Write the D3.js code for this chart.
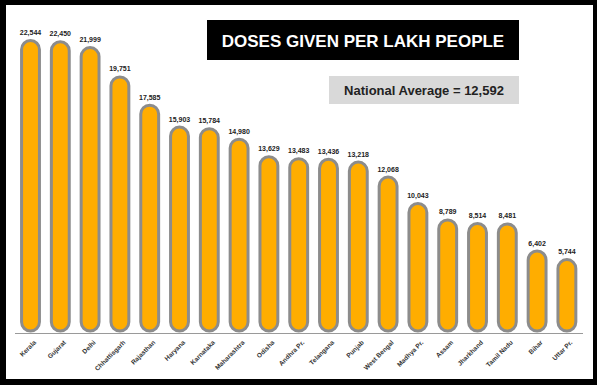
<!DOCTYPE html>
<html>
<head>
<meta charset="utf-8">
<script src="https://cdn.jsdelivr.net/npm/d3@7"></script>
<style>
  html, body { margin: 0; padding: 0; background: #fff; }
  svg { display: block; font-family: "Liberation Sans", Arial, Helvetica, sans-serif; }
</style>
</head>
<body>
<div id="chart"></div>
<script>
// Data
const states = ["Kerala", "Gujarat", "Delhi", "Chhattisgarh", "Rajasthan", "Haryana", "Karnataka",
    "Maharashtra", "Odisha", "Andhra Pr.", "Telangana", "Punjab", "West Bengal", "Madhya Pr.",
    "Assam", "Jharkhand", "Tamil Nadu", "Bihar", "Uttar Pr."];
const doses = [22544, 22450, 21999, 19751, 17585, 15903, 15784, 14980, 13629, 13483, 13436,
    13218, 12068, 10043, 8789, 8514, 8481, 6402, 5744];
const titleText = "DOSES GIVEN PER LAKH PEOPLE";
const nationalAverage = 12592;

const width = 600, height = 387;
const fmt = d3.format(",");

const svg = d3.select("#chart")
    .append("svg")
    .attr("width", width)
    .attr("height", height);

// black frame around a white panel
svg.append("rect").attr("x", 0).attr("y", 0).attr("width", 597).attr("height", 385).attr("fill", "#000");
svg.append("rect").attr("x", 6).attr("y", 5).attr("width", 587).attr("height", 374).attr("fill", "#fff");

const data = states.map((s, i) => ({ state: s, value: doses[i] }));

const x = d3.scaleBand()
    .domain(states)
    .range([15.6, 581.8])
    .paddingInner(0.4)
    .paddingOuter(0.2);

const y = d3.scaleLinear()
    .domain([0, d3.max(doses)])
    .range([333, 39]);

const baseY = 331;
const sw = 3;

// bars as pills
svg.selectAll(".bar")
    .data(data)
    .enter()
    .append("rect")
    .attr("class", "bar")
    .attr("x", d => x(d.state))
    .attr("y", d => y(d.value) + sw / 2)
    .attr("width", x.bandwidth())
    .attr("height", d => baseY - (y(d.value) + sw / 2))
    .attr("rx", x.bandwidth() / 2)
    .attr("ry", x.bandwidth() / 2)
    .attr("fill", "#FFAD00")
    .attr("stroke", "#8c8c8c")
    .attr("stroke-width", sw);

// baseline
svg.append("line")
    .attr("x1", 15).attr("x2", 583)
    .attr("y1", 333.5).attr("y2", 333.5)
    .attr("stroke", "#9a9a9a")
    .attr("stroke-width", 1);

// value labels
svg.selectAll(".val")
    .data(data)
    .enter()
    .append("text")
    .attr("class", "val")
    .attr("x", d => x(d.state) + x.bandwidth() / 2)
    .attr("y", d => y(d.value) - 4)
    .attr("text-anchor", "middle")
    .attr("font-size", 7)
    .attr("font-weight", "bold")
    .attr("fill", "#222")
    .text(d => fmt(d.value));

// category labels, rotated
svg.selectAll(".cat")
    .data(data)
    .enter()
    .append("text")
    .attr("class", "cat")
    .attr("text-anchor", "end")
    .attr("font-size", 6.5)
    .attr("font-weight", "bold")
    .attr("fill", "#333")
    .attr("transform", d => `translate(${x(d.state) + x.bandwidth() / 2 + 6},${343}) rotate(-45)`)
    .text(d => d.state);

// title box
svg.append("rect")
    .attr("x", 207).attr("y", 20).attr("width", 312).attr("height", 40)
    .attr("fill", "#000");
svg.append("text")
    .attr("x", 363).attr("y", 46.5)
    .attr("text-anchor", "middle")
    .attr("font-size", 17)
    .attr("font-weight", "bold")
    .attr("fill", "#fff")
    .text(titleText);

// national average box
svg.append("rect")
    .attr("x", 329).attr("y", 76).attr("width", 190).attr("height", 28)
    .attr("fill", "#d9d9d9");
svg.append("text")
    .attr("x", 424).attr("y", 95)
    .attr("text-anchor", "middle")
    .attr("font-size", 13)
    .attr("font-weight", "bold")
    .attr("fill", "#222")
    .text(`National Average = ${fmt(nationalAverage)}`);
</script>
</body>
</html>
